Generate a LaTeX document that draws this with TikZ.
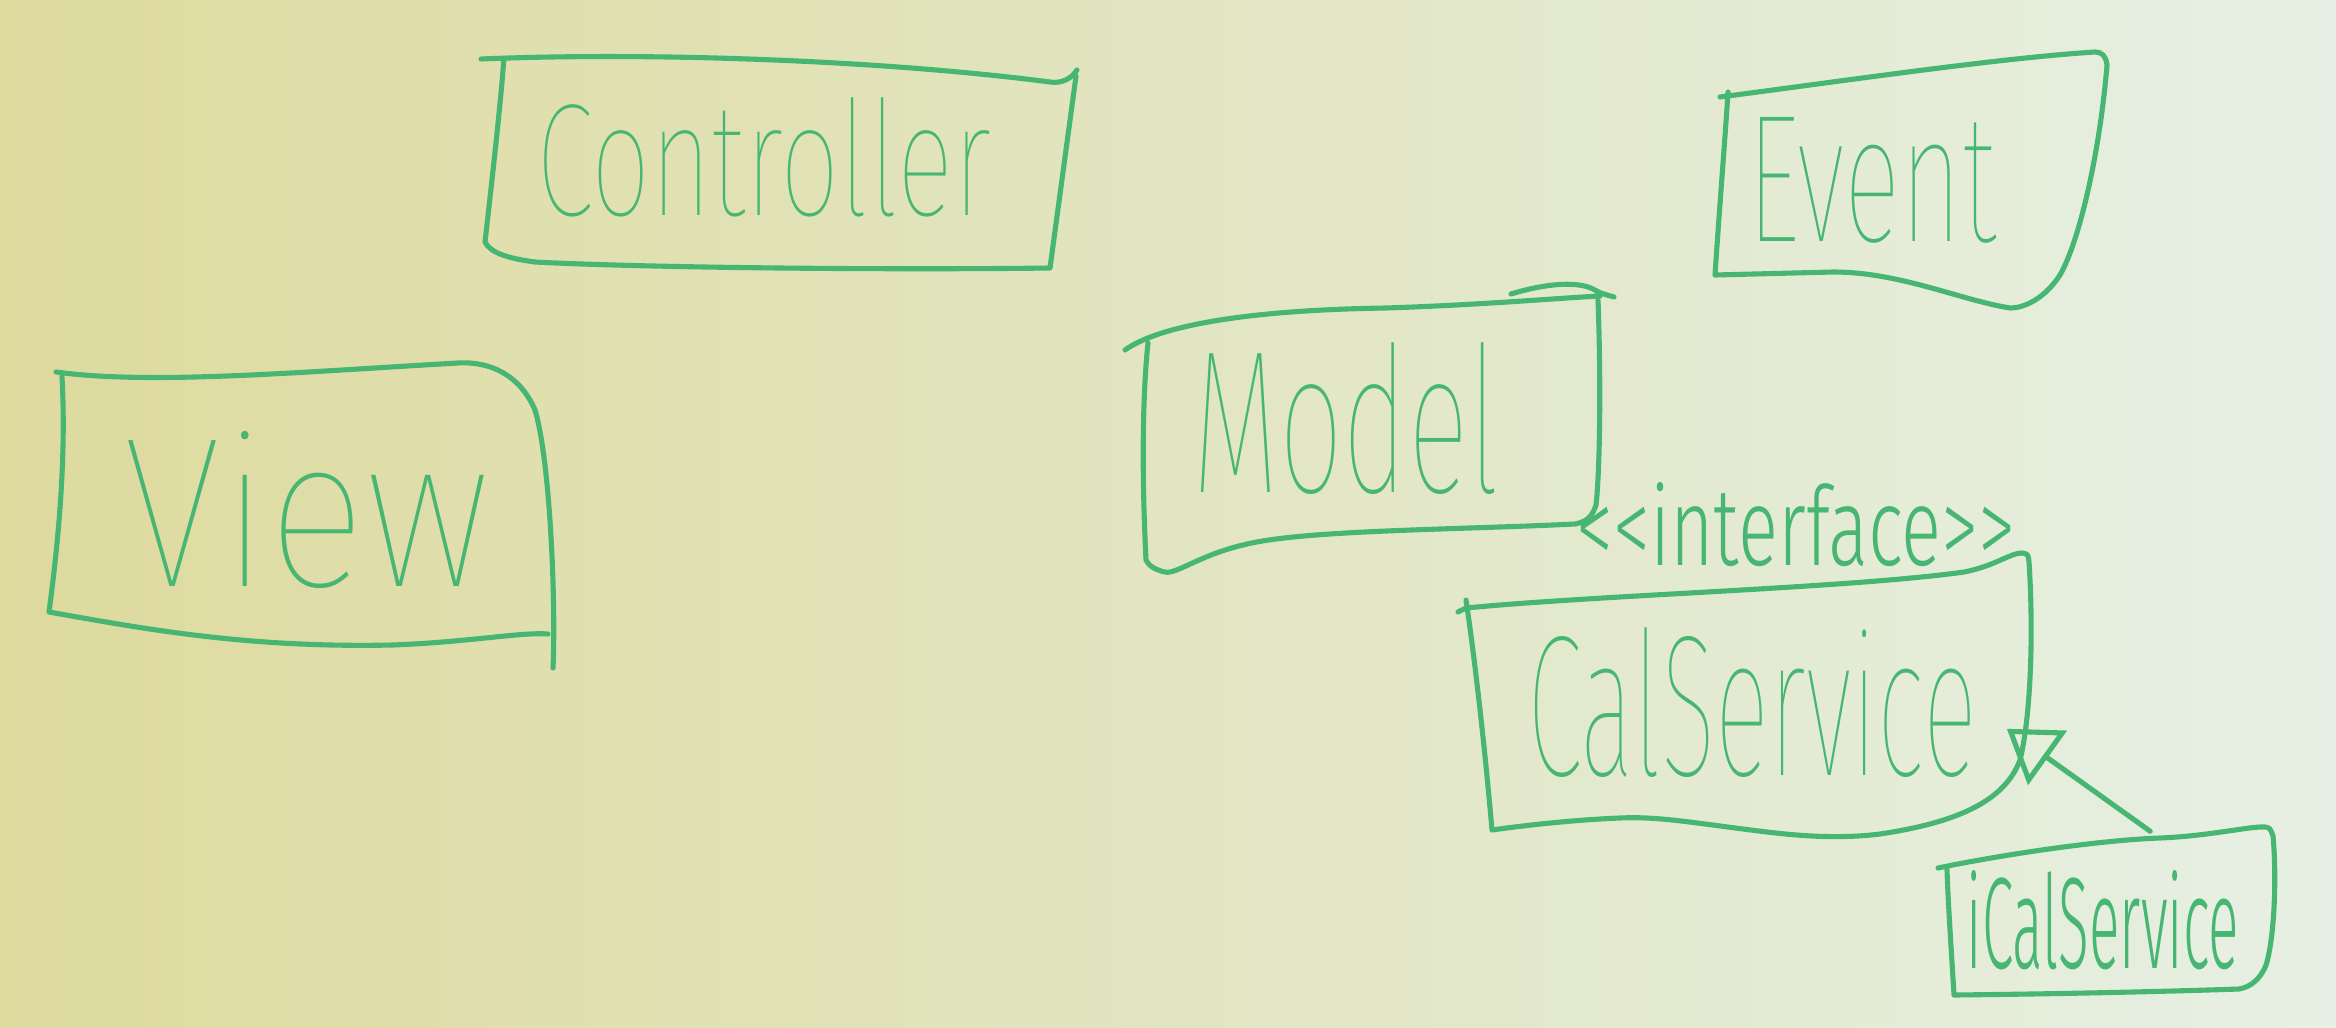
\documentclass[tikz,border=0pt]{standalone}
\usepackage{fontspec}
\usepackage{graphicx}
\usepackage{tikz}
\usetikzlibrary{arrows.meta}

\newfontfamily\handfont{Fira Sans Thin}
\newfontfamily\smallhandfont{Fira Sans Light}
\definecolor{marker}{RGB}{70,182,114}
\definecolor{boardleft}{RGB}{222,218,158}
\definecolor{boardmid}{RGB}{230,229,182}
\definecolor{boardright}{RGB}{230,240,228}
\newcommand{\hand}[3]{\resizebox{#1cm}{#2cm}{\handfont #3}}
\newcommand{\smallhand}[3]{\resizebox{#1cm}{#2cm}{\smallhandfont #3}}

\begin{document}
\begin{tikzpicture}[x=0.01cm, y=-0.01cm,
    ink/.style={draw=marker, line width=1.45pt, line cap=round, line join=round},
    word/.style={inner sep=0pt, text=marker},
    realize/.style={ink, -{Triangle[open, length=5mm, width=6.6mm]}}
]
    % Whiteboard
    \useasboundingbox (0,0) rectangle (2336,1027);
    \shade[left color=boardleft, middle color=boardmid, right color=boardright] (0,0) rectangle (2336,1027);

    % Class names
    \node[word] (ctrl) at (764,157) {\hand{4.55}{1.18}{Controller}};
    \node[word] (event) at (1872,180) {\hand{2.49}{1.24}{Event}};
    \node[word] (view) at (307,510) {\hand{3.67}{1.55}{View}};
    \node[word] (model) at (1346,418) {\hand{3.07}{1.50}{Model}};
    \node[word] (iface) at (1796,525) {\smallhand{4.39}{0.83}{<<interface>>}};
    \node[word, minimum width=5.08cm, minimum height=2.6cm] (cal) at (1752,702) {\hand{4.49}{1.48}{CalService}};
    \node[word, minimum width=3.2cm, minimum height=1.76cm] (ical) at (2103,920) {\smallhand{2.72}{0.98}{iCalService}};

    % Hand drawn boxes
    \draw[ink] (481,59) .. controls (650,52) and (880,60) .. (1050,82) .. controls (1062,84) and (1072,78) .. (1077,70)
        (1076,76) -- (1050,268) .. controls (900,270) and (650,268) .. (535,262) .. controls (505,258) and (490,252) .. (485,242)
        .. controls (492,180) and (500,110) .. (504,58);
    \draw[ink] (1720,97) .. controls (1850,80) and (2000,58) .. (2095,52) .. controls (2102,52) and (2106,56) .. (2107,65)
        .. controls (2100,150) and (2080,240) .. (2060,275) .. controls (2045,298) and (2025,308) .. (2010,308)
        .. controls (1960,300) and (1900,272) .. (1833,272) -- (1715,275)
        .. controls (1720,200) and (1725,140) .. (1728,92);
    \draw[ink] (56,372) .. controls (150,385) and (300,372) .. (458,363) .. controls (490,361) and (520,375) .. (535,410)
        .. controls (550,460) and (556,600) .. (553,668)
        (49,612) .. controls (150,630) and (250,648) .. (393,645) .. controls (470,642) and (520,632) .. (548,634)
        (62,377) .. controls (66,450) and (60,530) .. (49,612);
    \draw[ink] (1125,350) .. controls (1160,325) and (1250,310) .. (1386,308) .. controls (1480,305) and (1560,298) .. (1600,296)
        (1511,294) .. controls (1540,285) and (1575,280) .. (1593,289) .. controls (1600,293) .. (1614,297)
        (1598,300) .. controls (1601,380) and (1600,470) .. (1596,505) .. controls (1592,518) and (1585,522) .. (1575,524)
        .. controls (1450,530) and (1300,530) .. (1243,545) .. controls (1200,555) and (1175,575) .. (1165,572)
        .. controls (1155,570) and (1148,565) .. (1146,560) .. controls (1142,480) and (1142,400) .. (1148,343);
    \draw[ink] (1458,612) -- (1466,608) .. controls (1600,595) and (1850,588) .. (1964,572) .. controls (1995,566) and (2010,553) .. (2022,553)
        .. controls (2028,554) .. (2029,562) .. controls (2034,640) and (2030,720) .. (2020,760)
        .. controls (2005,800) and (1960,822) .. (1880,834) .. controls (1840,839) and (1800,836) .. (1767,832)
        .. controls (1700,824) and (1660,816) .. (1620,818) .. controls (1570,820) and (1520,826) .. (1492,830)
        .. controls (1485,750) and (1475,660) .. (1466,600);
    \draw[ink] (1938,868) .. controls (2000,855) and (2100,840) .. (2160,838) .. controls (2210,836) and (2250,826) .. (2265,827)
        .. controls (2270,828) .. (2273,836) .. controls (2277,880) and (2274,940) .. (2266,965)
        .. controls (2260,980) and (2250,987) .. (2239,989) .. controls (2150,992) and (2050,994) .. (1954,995)
        .. controls (1950,930) and (1948,900) .. (1947,870);

    % Realization
    \draw[realize] (ical.62) -- (cal.-6.3);
\end{tikzpicture}
\end{document}
